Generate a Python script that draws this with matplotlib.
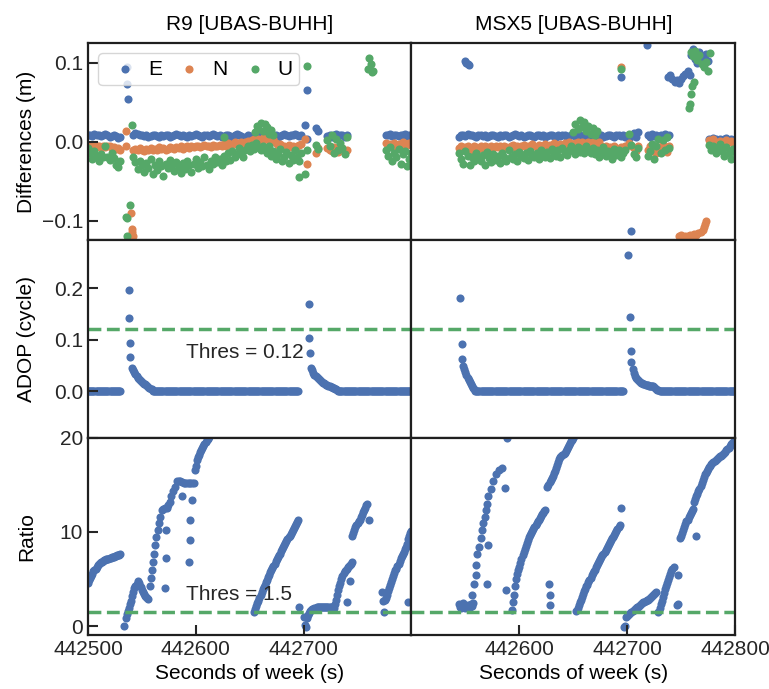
import matplotlib
matplotlib.use("Agg")
import numpy as np
import matplotlib.pyplot as plt

plt.rcParams['font.family'] = ['Liberation Sans', 'DejaVu Sans']
plt.rcParams['font.size'] = 15
plt.rcParams['axes.linewidth'] = 1.6
plt.rcParams['axes.edgecolor'] = '#1f1f1f'
plt.rcParams['xtick.direction'] = 'in'
plt.rcParams['ytick.direction'] = 'in'
plt.rcParams['xtick.major.size'] = 7
plt.rcParams['ytick.major.size'] = 7
plt.rcParams['xtick.major.width'] = 1.5
plt.rcParams['ytick.major.width'] = 1.5
plt.rcParams['xtick.color'] = '#262626'
plt.rcParams['ytick.color'] = '#262626'

BLUE, ORANGE, GREEN = '#4C72B0', '#DD8452', '#55A868'
T0 = 442500  # seconds of week at the left edge; all times below are offsets

stations = ["R9 [UBAS-BUHH]", "MSX5 [UBAS-BUHH]"]

# ---------------- position differences, mm ----------------
r9_t = (list(range(0, 31, 2)) + list(range(42, 199, 2))
        + [201, 203, 211, 213, 222, 224, 226, 228, 230, 232, 234, 236, 238, 240]
        + list(range(276, 301, 2)))
r9_e = ([8, 9, 7, 10, 8, 9, 7, 8, 10, 8, 6, 7, 9, 7, 5, 6]
        + [9, 11, 10, 8, 9, 7, 8, 6, 7, 9, 8, 7, 6, 8, 7, 9, 8, 6, 7, 8,
           10, 8, 7, 9, 7, 6, 8, 7, 9, 10, 8, 7, 6, 8, 9, 7, 8, 10, 9, 7,
           8, 6, 7, 9, 8, 7, 6, 8, 10, 9, 7, 5, 6, 8, 7, 6, 5, 7, 6, 8,
           9, 7, 6, 8, 7, 9, 8, 6, 7, 9, 10, 8, 7, 9, 8, 10, 9, 7, 8]
        + [21, 3, 17, 14, 7, 9, 6, 8, 10, 7, 9, 8, 6, 8]
        + [9, 8, 10, 7, 9, 8, 7, 9, 8, 10, 7, 8, 9])
r9_n = ([-5, -6, -4, -7, -6, -5, -8, -6, -7, -5, -6, -8, -7, -9, -8, -10]
        + [-10, -9, -11, -8, -10, -12, -9, -10, -8, -11, -9, -10, -7, -9, -8, -10, -9, -7, -8, -9,
           -7, -8, -6, -9, -7, -6, -8, -5, -7, -6, -5, -7, -6, -4, -6, -5, -7, -4, -5, -6,
           -4, -5, -3, -5, -2, -4, -3, -1, -3, -2, 0, -2, -1, 1, 0, 2, 3, 1, 4, 2,
           5, 3, 4, 2, 1, 3, -2, -4, -3, -6, -5, -8, -4, -7, -5, -9, -6, -4, -3]
        + [3, -28, -14, -8, -8, -10, -12, -7, -9, -13, -11, -8, -12, -10]
        + [-2, -4, -3, -5, -2, -6, -3, -4, -1, -5, -3, -2, -4])
r9_u = ([-8, -15, -22, -12, -18, -25, -16, -20, -6, -19, -23, -14, -21, -30, -32, -24]
        + [-20, -26, -35, -24, -30, -38, -27, -33, -22, -41, -29, -36, -25, -31, -44, -28, -34, -23, -30, -37,
           -26, -32, -40, -27, -35, -24, -30, -38, -28, -22, -33, -26, -31, -20, -29, -35, -24, -28, -19, -26,
           -22, -30, -18, -25, -15, -23, -12, -20, -16, -8, -14, -19, -10, -6, -12, -4, -9, -2, -7, -11,
           -5, -10, -14, -6, -18, -12, -22, -16, -9, -25, -20, -13, -27, -17, -23, -11, -19, -24, -15]
        + [-41, -10, -4, -9, 2, -6, 8, -14, 4, -10, -2, -8, -16, 6]
        + [-10, -18, -7, -25, -14, -20, -9, -28, -16, -12, -31, -22, -15])

# isolated epochs away from the main bands
r9_e_out_t = [36, 36.3, 37, 203]
r9_e_out_v = [95, 73, 54, 65]
r9_n_out_t = [35, 35.5, 40, 40.6, 41, 41.4]
r9_n_out_v = [14, -6, -90, -111, -115, -119]
r9_u_out_t = [41, 39, 35, 36, 36.2, 126, 155, 157, 158, 160, 162, 164, 166, 168, 170, 172,
              196, 203, 260, 261, 262, 263, 264]
r9_u_out_v = [21, -80, -96, -97, -119, 6, 12, 20, 16, 24, 14, 22, 18, 10, 15, 8,
              -45, 96, 92, 106, 99, 88, 90]

msx_t = (list(range(44, 199, 2))
         + [202, 204, 206, 208, 210, 219, 221, 223, 225, 227, 229, 231, 233, 235, 237, 239]
         + list(range(276, 301, 2)))
msx_e = ([6, 8, 9, 7, 10, 8, 9, 7, 6, 8, 9, 7, 8, 6, 7, 9, 8, 7, 6, 8,
          7, 9, 8, 6, 7, 8, 10, 9, 7, 8, 6, 7, 9, 8, 7, 6, 8, 9, 7, 8,
          6, 7, 8, 9, 7, 6, 8, 7, 9, 8, 6, 7, 8, 10, 7, 9, 8, 6, 7, 8,
          9, 7, 6, 8, 7, 9, 8, 6, 7, 9, 8, 7, 6, 8, 9, 7, 8, 6]
         + [3, 8, 11, 6, 12, 9, 6, 10, 7, 8, 5, 9, 7, 10, 6, 8]
         + [4, 2, 5, 3, 1, 4, 2, 3, 5, 1, 3, 2, 4])
msx_n = ([-8, -6, -9, -7, -5, -8, -10, -6, -7, -9, -5, -8, -6, -7, -9, -6, -8, -5, -7, -6,
          -8, -5, -7, -9, -6, -4, -7, -5, -8, -6, -4, -7, -5, -6, -3, -5, -7, -4, -6, -5,
          -3, -6, -4, -5, -2, -4, -6, -3, -5, -2, -4, -1, -3, -5, -2, 0, -3, -1, -4, -2,
          -1, -3, 0, -2, -4, -1, -6, -8, -5, -9, -7, -10, -6, -8, -11, -7, -9, -5]
         + [-2, -5, -8, -12, -6, -10, -6, -12, -8, -14, -7, -11, -4, -9, -13, -6]
         + [2, -1, 3, 0, -2, 1, -3, 0, 2, -1, 1, -2, 0])
msx_u = ([-15, -22, -28, -12, -18, -30, -20, -25, -14, -19, -24, -17, -29, -13, -21, -26, -16, -23, -18, -27,
          -14, -20, -24, -11, -19, -22, -16, -25, -13, -18, -21, -15, -23, -12, -17, -20, -14, -22, -10, -16,
          -19, -13, -21, -9, -15, -18, -11, -20, -8, -14, -17, -10, -5, -12, -16, -7, -13, -9, -15, -6,
          -11, -14, -8, -16, -10, -20, -13, -7, -18, -12, -15, -22, -9, -17, -11, -19, -14, -10]
         + [10, -4, -16, -20, -8, -18, -12, -3, -22, -6, 4, -14, 2, -10, 6, -8]
         + [-4, -10, -6, -14, -8, -3, -12, -18, -7, -15, -22, -9, -13])

msx_e_out_t = [50, 51, 52, 53, 194, 204, 218,
               238, 240, 242, 244, 246, 248, 250, 252, 254, 256, 258,
               259, 261, 263, 265, 267, 269, 271, 273, 275]
msx_e_out_v = [102, 100, 98, 97, 82, -113, 122,
               82, 85, 80, 76, 78, 74, 79, 83, 86, 89, 84,
               110, 118, 105, 100, 113, 108, 104, 111, 102]
msx_n_out_t = [194, 248, 250, 252, 254, 256, 258, 260, 262, 264, 266, 268, 270, 271, 272, 273]
msx_n_out_v = [94, -120, -118, -121, -119, -120, -118, -121, -117, -118, -116, -114, -112, -108, -104, -100]
msx_u_out_t = [150, 152, 154, 156, 158, 160, 162, 164, 166, 168, 170, 172, 194,
               257, 258, 259, 260, 262, 259, 261, 263, 265, 267, 269, 271, 273, 275, 277]
msx_u_out_v = [12, 22, 16, 28, 18, 25, 14, 20, 10, 17, 8, 13, 92,
               43, 48, 60, 70, 75, 113, 108, 115, 104, 110, 98, 94, 101, 90, 112]

# ---------------- ADOP, cycles ----------------
r9_adop_t = (list(range(0, 31)) + [37.8, 38.2, 38.7, 39.3] + list(range(41, 60))
             + list(range(60, 196)) + [204.6, 205.3, 206.0] + list(range(207, 232))
             + list(range(232, 301)))
r9_adop_v = ([0.0] * 31 + [0.197, 0.143, 0.093, 0.066]
             + [0.046, 0.041, 0.037, 0.033, 0.029, 0.026, 0.024, 0.022, 0.020, 0.018,
                0.016, 0.015, 0.014, 0.012, 0.010, 0.009, 0.007, 0.005, 0.004]
             + [0.0] * 136 + [0.169, 0.103, 0.074]
             + [0.046, 0.041, 0.036, 0.032, 0.029, 0.027, 0.025, 0.023, 0.021, 0.020,
                0.018, 0.017, 0.016, 0.014, 0.013, 0.012, 0.011, 0.010, 0.009, 0.008,
                0.007, 0.006, 0.005, 0.004, 0.003]
             + [0.0] * 69)

msx_adop_t = ([44.7, 46.4, 47.3] + list(range(48, 59)) + list(range(59, 197))
              + [200.6, 202.2, 203.1, 204.0] + list(range(205, 231)) + list(range(231, 301)))
msx_adop_v = ([0.182, 0.092, 0.062]
              + [0.050, 0.044, 0.037, 0.031, 0.026, 0.022, 0.018, 0.014, 0.010, 0.007, 0.004]
              + [0.0] * 138 + [0.264, 0.145, 0.078, 0.057]
              + [0.043, 0.036, 0.030, 0.026, 0.023, 0.021, 0.019, 0.018, 0.017, 0.016,
                 0.015, 0.014, 0.013, 0.012, 0.012, 0.011, 0.011, 0.010, 0.010, 0.010,
                 0.009, 0.007, 0.005, 0.003, 0.002, 0.001]
              + [0.0] * 70)
adop_thres = 0.12

# ---------------- ambiguity ratio ----------------
r9_ratio_t = (list(range(0, 31))
              + [33] + list(range(35, 57))
              + [57.7, 58.3, 59.2, 60.1, 60.8, 62.3, 63.3, 64.5, 65.4, 67.0,
                 68.5, 70.0, 71.5, 73.2, 74.5, 75.7, 76.9, 78.8, 80.9, 82.5,
                 84.0, 85.6, 87.2, 88.7, 90.3, 91.8, 93.4, 95.0, 96.4, 98.0]
              + [71.6, 72.6, 72.0, 87.1, 94.0, 94.3, 94.5, 96.4]
              + list(range(99, 114))
              + list(range(154, 196))
              + [196, 200, 201, 202] + list(range(203, 228))
              + list(range(228, 246)) + [240.6, 243.0]
              + list(range(245, 260)) + [260.7]
              + [273, 274, 274.5, 296.5] + list(range(275, 301)))
r9_ratio_v = ([4.6, 4.85, 5.1, 5.35, 5.55, 5.8, 5.95, 6.1, 6.3, 6.45,
               6.55, 6.7, 6.75, 6.85, 6.9, 7.0, 7.05, 7.1, 7.1, 7.15,
               7.2, 7.25, 7.3, 7.3, 7.35, 7.4, 7.45, 7.5, 7.5, 7.55, 7.6]
              + [0.0, 0.9, 1.3, 1.6, 1.9, 2.3, 2.7, 3.2, 3.6, 4.0, 4.3, 4.5,
                 4.8, 4.6, 4.3, 4.1, 3.8, 3.6, 3.4, 3.2, 3.1, 3.0, 2.9]
              + [4.2, 5.1, 6.0, 6.8, 7.7, 8.6, 9.5, 10.2, 10.9, 11.6,
                 12.3, 12.4, 12.5, 12.5, 12.9, 13.2, 13.8, 14.3, 14.8, 15.4,
                 15.4, 15.4, 15.3, 15.2, 15.2, 15.2, 15.2, 15.2, 15.2, 15.2]
              + [4.0, 7.2, 10.2, 13.8, 6.8, 9.1, 11.3, 13.4]
              + [16.6, 17.0, 17.6, 17.9, 18.2, 18.5, 18.7, 18.9, 19.1, 19.3,
                 19.5, 19.7, 19.9, 20.1, 20.3]
              + [1.5, 1.8, 2.1, 2.4, 2.7, 3.0, 3.3, 3.6, 3.9, 4.1,
                 4.4, 4.7, 4.9, 5.2, 5.4, 5.7, 5.9, 6.2, 6.4, 6.6,
                 6.9, 7.1, 7.3, 7.5, 7.7, 8.0, 8.2, 8.4, 8.6, 8.8,
                 9.0, 9.2, 9.4, 9.6, 9.8, 10.0, 10.2, 10.4, 10.6, 10.8, 11.0, 11.3]
              + [2.0, 1.0, 0.1, -0.1]
              + [0.8, 1.2, 1.4, 1.6, 1.7, 1.8, 1.85, 1.9, 1.95, 2.0,
                 2.0, 2.0, 2.05, 2.05, 2.0, 2.05, 2.05, 2.0, 2.05, 2.05,
                 2.0, 2.05, 2.05, 2.0, 2.05]
              + [1.9, 2.3, 2.8, 3.3, 3.8, 4.2, 4.6, 5.0, 5.3, 5.6,
                 5.8, 6.0, 6.1, 6.3, 6.4, 6.5, 6.6, 6.8] + [2.6, 4.8]
              + [9.6, 9.9, 10.2, 10.5, 10.7, 10.9, 11.1, 11.3, 11.6, 11.8,
                 12.1, 12.3, 12.5, 12.8, 13.0] + [11.3]
              + [3.6, 2.7, 1.5, 2.5]
              + [2.8, 3.0, 3.3, 3.7, 4.0, 4.4, 4.7, 5.0, 5.3, 5.6,
                 5.9, 6.1, 6.4, 6.6, 6.9, 7.2, 7.4, 7.7, 7.9, 8.2,
                 8.4, 8.7, 9.2, 9.6, 9.9, 10.1])

msx_ratio_t = (list(range(44, 58))
               + [56.4, 58.0, 59.5, 60.2, 61.1, 62.6, 64.2, 65.1, 66.4, 68.2,
                  69.5, 70.4, 71.3, 73.5, 75.6, 78.1, 81.2, 84.3]
               + [70.4, 71.3, 86.8, 88.1, 89.0]
               + list(range(93, 125)) + [127.7, 128.0, 128.0]
               + list(range(126, 152))
               + list(range(153, 194)) + [194.4]
               + list(range(197, 228))
               + list(range(229, 244)) + [247.1, 247.0, 246.5]
               + list(range(249, 301)) + [263.6])
msx_ratio_v = ([2.3, 2.0, 1.9, 2.2, 2.4, 2.1, 1.9, 2.0, 2.2, 1.9, 2.0, 2.3, 2.1, 2.4]
               + [3.3, 4.5, 5.4, 6.5, 7.6, 8.4, 9.3, 10.2, 10.9, 11.6,
                  12.3, 13.0, 13.8, 14.6, 15.4, 16.1, 16.6, 16.8]
               + [4.5, 8.6, 14.7, 3.8, 20.0]
               + [1.7, 2.5, 3.3, 4.2, 5.0, 5.5, 5.9, 6.3, 6.7, 7.1,
                  7.5, 7.9, 8.2, 8.5, 8.8, 9.1, 9.4, 9.7, 9.9, 10.1,
                  10.3, 10.5, 10.7, 10.9, 11.1, 11.3, 11.5, 11.7, 11.9, 12.0,
                  12.2, 12.3] + [4.5, 3.3, 2.2]
               + [14.8, 15.0, 15.3, 15.5, 15.7, 15.9, 16.2, 16.5, 16.8, 17.1,
                  17.4, 17.7, 17.9, 18.1, 18.2, 18.3, 18.4, 18.6, 18.8, 19.0,
                  19.2, 19.4, 19.6, 19.8, 20.0, 20.2]
               + [1.6, 1.9, 2.2, 2.5, 2.8, 3.1, 3.4, 3.7, 3.9, 4.2,
                  4.4, 4.7, 4.9, 5.1, 5.4, 5.6, 5.8, 6.0, 6.3, 6.5,
                  6.7, 6.9, 7.1, 7.3, 7.5, 7.7, 7.9, 8.1, 8.3, 8.5,
                  8.7, 8.9, 9.1, 9.3, 9.5, 9.7, 9.9, 10.1, 10.3, 10.5, 10.7] + [12.5]
               + [-0.1, 0.0, 1.0, 1.1, 1.2, 1.3, 1.4, 1.5, 1.6, 1.7,
                  1.8, 1.9, 2.0, 2.0, 2.1, 2.2, 2.3, 2.4, 2.5, 2.6,
                  2.7, 2.8, 2.8, 2.9, 3.0, 3.1, 3.2, 3.3, 3.4, 3.5, 3.6]
               + [1.5, 1.9, 2.3, 2.7, 3.1, 3.5, 3.9, 4.3, 4.6, 4.9,
                  5.2, 5.5, 5.8, 6.1, 6.3] + [5.4, 2.3, 2.2]
               + [9.3, 9.6, 9.9, 10.2, 10.5, 10.8, 11.1, 11.3, 11.6, 11.8,
                  12.0, 12.2, 12.4, 13.2, 13.5, 13.8, 14.0, 14.3, 14.6, 14.9,
                  15.2, 15.5, 15.8, 16.1, 16.3, 16.5, 16.7, 16.9, 17.0, 17.2,
                  17.3, 17.4, 17.5, 17.6, 17.7, 17.8, 17.9, 18.0, 18.1, 18.2,
                  18.3, 18.4, 18.5, 18.7, 18.8, 18.9, 19.1, 19.3, 19.4, 19.5,
                  19.6, 19.7] + [9.6])
ratio_thres = 1.5

# ---------------- figure ----------------
fig = plt.figure(figsize=(7.69, 6.89), dpi=100)
axes = fig.subplots(3, 2, gridspec_kw=dict(hspace=0, wspace=0))
fig.subplots_adjust(left=0.1144, right=0.9558, top=0.9376, bottom=0.0784)

S = 34
diff_sets = [
    (r9_t, r9_e, r9_n, r9_u, (r9_e_out_t, r9_e_out_v), (r9_n_out_t, r9_n_out_v), (r9_u_out_t, r9_u_out_v)),
    (msx_t, msx_e, msx_n, msx_u, (msx_e_out_t, msx_e_out_v), (msx_n_out_t, msx_n_out_v), (msx_u_out_t, msx_u_out_v)),
]
adop_sets = [(r9_adop_t, r9_adop_v), (msx_adop_t, msx_adop_v)]
ratio_sets = [(r9_ratio_t, r9_ratio_v), (msx_ratio_t, msx_ratio_v)]

handles = []
for col in range(2):
    t, e, n, u, eo, no, uo = diff_sets[col]
    t = np.array(t) + T0
    ax = axes[0, col]
    hs = []
    for vals, out, c, lab in [(e, eo, BLUE, 'E'), (n, no, ORANGE, 'N'), (u, uo, GREEN, 'U')]:
        tt = np.concatenate([t, np.array(out[0]) + T0])
        vv = np.concatenate([np.array(vals), np.array(out[1])]) / 1000.0
        hs.append(ax.scatter(tt, vv, s=S, color=c, lw=0, label=lab))
    if col == 0:
        handles = hs
    ax.set_ylim(-0.125, 0.125)
    ax.set_yticks([-0.1, 0.0, 0.1])
    ax.set_title(stations[col], fontsize=15, pad=9)

    ax = axes[1, col]
    at, av = adop_sets[col]
    ax.scatter(np.array(at) + T0, av, s=S, color=BLUE, lw=0)
    ax.axhline(adop_thres, color=GREEN, lw=2.5, ls='--')
    ax.set_ylim(-0.09, 0.293)
    ax.set_yticks([0.0, 0.1, 0.2])

    ax = axes[2, col]
    rt, rv = ratio_sets[col]
    ax.scatter(np.array(rt) + T0, rv, s=S, color=BLUE, lw=0)
    ax.axhline(ratio_thres, color=GREEN, lw=2.5, ls='--')
    ax.set_ylim(-0.95, 20)
    ax.set_yticks([0, 10, 20])
    ax.set_xlabel("Seconds of week (s)", fontsize=15)

axes[1, 0].text(T0 + 91, 0.076, "Thres = 0.12", fontsize=15, va='center', color='#262626')
axes[2, 0].text(T0 + 91, 3.3, "Thres = 1.5", fontsize=15, va='center', color='#262626')

xt = [[442500, 442600, 442700], [442600, 442700, 442800]]
for r in range(3):
    for c in range(2):
        ax = axes[r, c]
        ax.set_xlim(T0, T0 + 300)
        if r == 2:
            ax.set_xticks(xt[c], labels=[str(v) for v in xt[c]])
        else:
            ax.set_xticks([])
        if c == 1:
            ax.tick_params(axis='y', left=False, labelleft=False)
        ax.tick_params(labelsize=15)

axes[0, 0].set_ylabel("Differences (m)", fontsize=15)
axes[1, 0].set_ylabel("ADOP (cycle)", fontsize=15)
axes[2, 0].set_ylabel("Ratio", fontsize=15)
fig.align_ylabels(axes[:, 0])

axes[0, 0].legend(handles=handles, loc='upper left', ncol=3, fontsize=15,
                  handlelength=2.0, handletextpad=0.1, columnspacing=0.3,
                  borderpad=0.3, scatterpoints=1, frameon=True)

fig.savefig("out.png", dpi=100)
